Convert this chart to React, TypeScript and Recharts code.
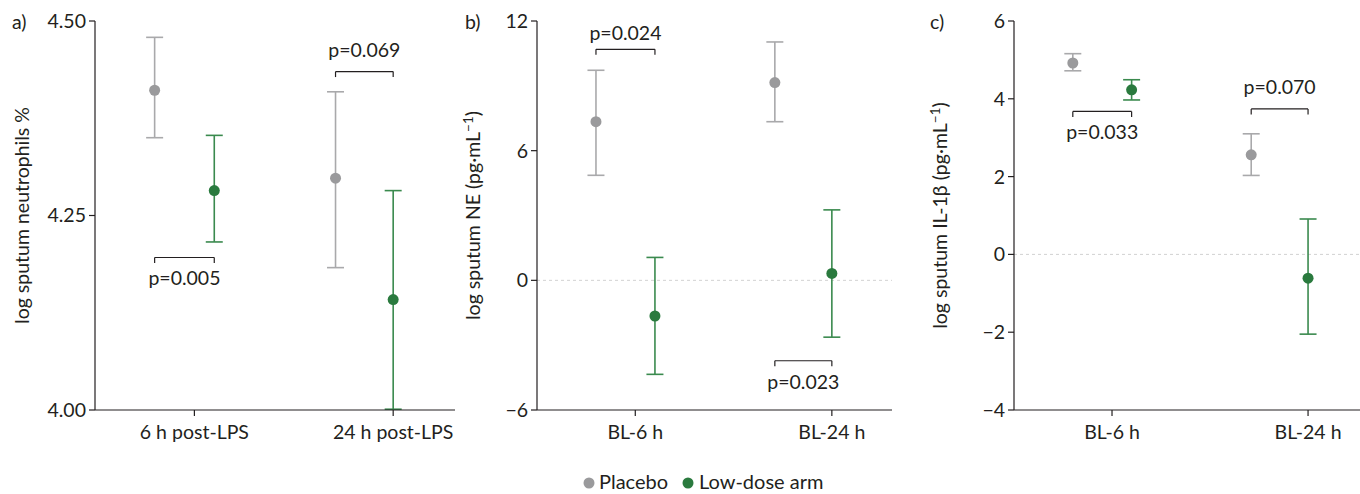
import { ScatterChart, Scatter, XAxis, YAxis, ErrorBar, ReferenceLine } from 'recharts'

// dodge positions of the two arms around the time-point ticks (ticks at 1 and 3)
const placeboX = [0.6, 2.42]
const lowDoseX = [1.2, 3.0]

// a) sputum neutrophils
const aCategories = ['6 h post-LPS', '24 h post-LPS']
const aPlaceboMean = [4.411, 4.298]
const aPlaceboLo = [4.35, 4.183]
const aPlaceboHi = [4.479, 4.409]
const aLowMean = [4.282, 4.142]
const aLowLo = [4.216, 4.001]
const aLowHi = [4.353, 4.282]
const aTicks = [4.0, 4.25, 4.5]

// b) sputum NE
const bCategories = ['BL-6 h', 'BL-24 h']
const bPlaceboMean = [7.34, 9.15]
const bPlaceboLo = [4.86, 7.34]
const bPlaceboHi = [9.72, 11.03]
const bLowMean = [-1.65, 0.32]
const bLowLo = [-4.35, -2.63]
const bLowHi = [1.06, 3.26]
const bTicks = [-6, 0, 6, 12]

// c) sputum IL-1beta
const cCategories = ['BL-6 h', 'BL-24 h']
const cPlaceboMean = [4.92, 2.56]
const cPlaceboLo = [4.72, 2.03]
const cPlaceboHi = [5.16, 3.1]
const cLowMean = [4.23, -0.61]
const cLowLo = [3.97, -2.05]
const cLowHi = [4.49, 0.91]
const cTicks = [-4, -2, 0, 2, 4, 6]

type Bracket = { x1: number; x2: number; y: number; text: string; side: 'top' | 'bottom' }

const aBrackets: Bracket[] = [
  { x1: 0.6, x2: 1.2, y: 4.196, text: 'p=0.005', side: 'bottom' },
  { x1: 2.42, x2: 3.0, y: 4.435, text: 'p=0.069', side: 'top' },
]
const bBrackets: Bracket[] = [
  { x1: 0.6, x2: 1.2, y: 10.69, text: 'p=0.024', side: 'top' },
  { x1: 2.42, x2: 3.0, y: -3.72, text: 'p=0.023', side: 'bottom' },
]
const cBrackets: Bracket[] = [
  { x1: 0.6, x2: 1.2, y: 3.675, text: 'p=0.033', side: 'bottom' },
  { x1: 2.42, x2: 3.0, y: 3.74, text: 'p=0.070', side: 'top' },
]

const INK = '#231f20'
const GREY = '#9a9a9c'
const GREY_BAR = '#a9a9ab'
const GREEN = '#2a7a3e'
const GREEN_BAR = '#3a8a4e'
const FONT = 19.5

function rows(xs: number[], mean: number[], lo: number[], hi: number[]) {
  return xs.map((x, i) => ({ x, y: mean[i], err: [mean[i] - lo[i], hi[i] - mean[i]] }))
}

const minus = (v: number, digits = 0) =>
  v < 0 ? '\u2212' + Math.abs(v).toFixed(digits) : v.toFixed(digits)

type PanelProps = {
  left: number
  width: number
  axisWidth: number
  labelOffset: number
  xMax: number
  yDomain: [number, number]
  yTicks: number[]
  digits: number
  yLabel: string
  unit?: boolean
  categories: string[]
  placebo: { x: number; y: number; err: number[] }[]
  lowDose: { x: number; y: number; err: number[] }[]
  brackets: Bracket[]
  zeroLine?: boolean
}

function Panel(p: PanelProps) {
  const tickLen = ((p.yDomain[1] - p.yDomain[0]) * 5.5) / 389
  const yLabel = (props: any) => {
    const vb = props.viewBox
    const x = vb.x + p.labelOffset
    const y = vb.y + vb.height / 2
    return (
      <text
        x={x}
        y={y}
        transform={`rotate(-90 ${x} ${y})`}
        textAnchor="middle"
        dy="0.35em"
        fontSize={FONT}
        fill={INK}
      >
        {p.yLabel}
        {p.unit && (
          <>
            {' (pg·mL'}
            <tspan dy={-7} fontSize={13.5}>
              −1
            </tspan>
            <tspan dy={7}>)</tspan>
          </>
        )}
      </text>
    )
  }
  return (
    <div style={{ position: 'absolute', left: p.left, top: 0 }}>
      <ScatterChart width={p.width} height={470} margin={{ top: 21, right: 0, bottom: 0, left: 0 }}>
        <XAxis
          type="number"
          dataKey="x"
          domain={[0, p.xMax]}
          ticks={[1, 3]}
          tickFormatter={(v: number) => (v === 1 ? p.categories[0] : p.categories[1])}
          height={60}
          tickSize={6}
          tickMargin={9}
          stroke={INK}
          strokeWidth={1.2}
          tick={{ fontSize: FONT, fill: INK }}
          allowDataOverflow
        />
        <YAxis
          type="number"
          dataKey="y"
          domain={p.yDomain}
          ticks={p.yTicks}
          tickFormatter={(v: number) => minus(v, p.digits)}
          width={p.axisWidth}
          tickSize={6}
          tickMargin={3}
          stroke={INK}
          strokeWidth={1.2}
          tick={{ fontSize: FONT, fill: INK }}
          allowDataOverflow
          label={{ content: yLabel }}
        />
        {p.zeroLine && <ReferenceLine y={0} stroke="#d2d2d2" strokeDasharray="3 3" strokeWidth={1} />}
        {p.brackets.map((b, i) => (
          <ReferenceLine
            key={`h${i}`}
            segment={[
              { x: b.x1, y: b.y },
              { x: b.x2, y: b.y },
            ]}
            stroke={INK}
            strokeWidth={1.2}
            label={{
              value: b.text,
              position: b.side,
              offset: b.side === 'bottom' ? 14 : b.y > 10 ? 9 : 15,
              fontSize: FONT,
              fill: INK,
            }}
          />
        ))}
        {p.brackets.map((b, i) => (
          <ReferenceLine
            key={`l${i}`}
            segment={[
              { x: b.x1, y: b.y },
              { x: b.x1, y: b.y - tickLen },
            ]}
            stroke={INK}
            strokeWidth={1.2}
          />
        ))}
        {p.brackets.map((b, i) => (
          <ReferenceLine
            key={`r${i}`}
            segment={[
              { x: b.x2, y: b.y },
              { x: b.x2, y: b.y - tickLen },
            ]}
            stroke={INK}
            strokeWidth={1.2}
          />
        ))}
        <Scatter
          name="Placebo"
          data={p.placebo}
          isAnimationActive={false}
          shape={(s: any) => <circle cx={s.cx} cy={s.cy} r={5.5} fill={GREY} />}
        >
          <ErrorBar dataKey="err" direction="y" width={8.5} stroke={GREY_BAR} strokeWidth={1.6} />
        </Scatter>
        <Scatter
          name="Low-dose arm"
          data={p.lowDose}
          isAnimationActive={false}
          shape={(s: any) => <circle cx={s.cx} cy={s.cy} r={5.5} fill={GREEN} />}
        >
          <ErrorBar dataKey="err" direction="y" width={8.5} stroke={GREEN_BAR} strokeWidth={1.6} />
        </Scatter>
      </ScatterChart>
    </div>
  )
}

export default function App() {
  return (
    <div
      style={{
        position: 'absolute',
        left: 0,
        top: 0,
        width: 1360,
        height: 494,
        background: '#fff',
        fontFamily: 'Lato, "Open Sans", sans-serif',
        overflow: 'hidden',
      }}
    >
      <Panel
        left={0}
        width={455}
        axisWidth={95}
        labelOffset={22}
        xMax={3.622}
        yDomain={[4, 4.5]}
        yTicks={aTicks}
        digits={2}
        yLabel="log sputum neutrophils %"
        categories={aCategories}
        placebo={rows(placeboX, aPlaceboMean, aPlaceboLo, aPlaceboHi)}
        lowDose={rows(lowDoseX, aLowMean, aLowLo, aLowHi)}
        brackets={aBrackets}
      />
      <Panel
        left={455}
        width={437}
        axisWidth={82}
        labelOffset={18}
        xMax={3.612}
        yDomain={[-6, 12]}
        yTicks={bTicks}
        digits={0}
        yLabel="log sputum NE"
        unit
        categories={bCategories}
        placebo={rows(placeboX, bPlaceboMean, bPlaceboLo, bPlaceboHi)}
        lowDose={rows(lowDoseX, bLowMean, bLowLo, bLowHi)}
        brackets={bBrackets}
        zeroLine
      />
      <Panel
        left={910}
        width={450}
        axisWidth={104}
        labelOffset={30}
        xMax={3.53}
        yDomain={[-4, 6]}
        yTicks={cTicks}
        digits={0}
        yLabel="log sputum IL-1β"
        unit
        categories={cCategories}
        placebo={rows(placeboX, cPlaceboMean, cPlaceboLo, cPlaceboHi)}
        lowDose={rows(lowDoseX, cLowMean, cLowLo, cLowHi)}
        brackets={cBrackets}
        zeroLine
      />
      <svg
        width={1360}
        height={494}
        style={{ position: 'absolute', left: 0, top: 0, pointerEvents: 'none' }}
      >
        <g fontSize={FONT} fill={INK}>
          <text x={12} y={29}>a)</text>
          <text x={465} y={29}>b)</text>
          <text x={930} y={29}>c)</text>
        </g>
        <g fontSize={20} fill={INK}>
          <circle cx={589} cy={483} r={5.5} fill={GREY} />
          <text x={599} y={489}>Placebo</text>
          <circle cx={688} cy={483} r={5.5} fill={GREEN} />
          <text x={699} y={489}>Low-dose arm</text>
        </g>
      </svg>
    </div>
  )
}
